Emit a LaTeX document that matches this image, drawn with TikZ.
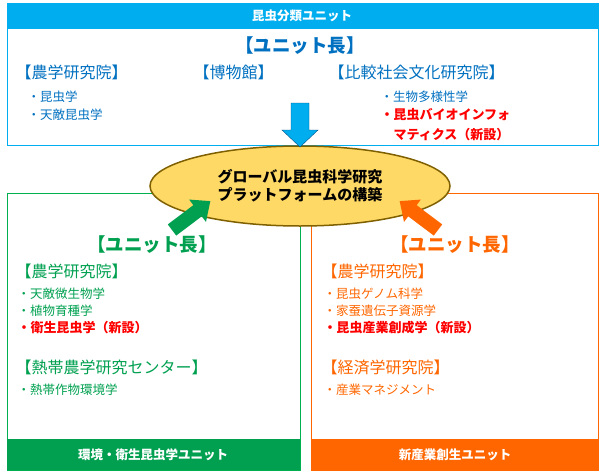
\documentclass[tikz,border=0pt]{standalone}
\usepackage{fontspec}
\setmainfont{Noto Sans CJK JP}
\usetikzlibrary{shapes.geometric,shapes.arrows}
\definecolor{cblue}{HTML}{00AEEF}
\definecolor{tblue}{HTML}{0070C0}
\definecolor{cgreen}{HTML}{00B050}
\definecolor{cgreen2}{HTML}{00A050}
\definecolor{corange}{HTML}{FF6600}
\definecolor{cred}{HTML}{FF0000}
\definecolor{cyel}{HTML}{FFD966}
\definecolor{cbrown}{HTML}{7F6000}
\begin{document}
\begin{tikzpicture}[x=1pt,y=-1pt,
  head/.style={font=\fontsize{18.5}{20}\selectfont\bfseries},
  inst/.style={anchor=west,font=\fontsize{16}{17}\selectfont},
  item/.style={anchor=west,font=\fontsize{12.5}{14}\selectfont},
  new/.style={item,text=cred,font=\fontsize{13}{14}\selectfont\bfseries},
  foot/.style={text=white,font=\fontsize{12.5}{14}\selectfont\bfseries}]
\useasboundingbox (0,0) rectangle (600,474);
% top box
\node[draw=cblue,line width=1pt,minimum width=591,minimum height=142,anchor=north west] (topbox) at (7,3) {};
\fill[cblue] (7,3) rectangle (598,29);
\node[foot] (toptitle) at (302,16) {昆虫分類ユニット};
\node[head,text=tblue] (th) at (300,46) {【ユニット長】};
\node[inst,text=tblue] (t1) at (12,72) {【農学研究院】};
\node[inst,text=tblue] (t2) at (190,72) {【博物館】};
\node[inst,text=tblue] (t3) at (325,72) {【比較社会文化研究院】};
\node[item,text=tblue] (t11) at (24,97) {・昆虫学};
\node[item,text=tblue] (t12) at (24,115) {・天敵昆虫学};
\node[item,text=tblue] (t31) at (377,97) {・生物多様性学};
\node[new] (t32) at (377,115) {・昆虫バイオインフォ};
\node[new] (t33) at (390,135) {マティクス（新設）};
% green box
\node[draw=cgreen,line width=1pt,minimum width=293,minimum height=277,anchor=north west] (gbox) at (7,193) {};
\fill[cgreen2] (7,439) rectangle (300,470);
\node[foot] (gfoot) at (153,455) {環境・衛生昆虫学ユニット};
\node[head,text=cgreen2] (gh) at (152,245) {【ユニット長】};
\node[inst,text=cgreen2] (g1) at (12,271) {【農学研究院】};
\node[item,text=cgreen2] (g11) at (14,294) {・天敵微生物学};
\node[item,text=cgreen2] (g12) at (14,311) {・植物育種学};
\node[new] (g13) at (14,328) {・衛生昆虫学（新設）};
\node[inst,text=cgreen2] (g2) at (12,367) {【熱帯農学研究センター】};
\node[item,text=cgreen2] (g21) at (14,390) {・熱帯作物環境学};
% orange box
\node[draw=corange,line width=1pt,minimum width=287,minimum height=277,anchor=north west] (obox) at (311,193) {};
\fill[corange] (311,439) rectangle (598,470);
\node[foot] (ofoot) at (455,455) {新産業創生ユニット};
\node[head,text=corange] (oh) at (455,245) {【ユニット長】};
\node[inst,text=corange] (o1) at (318,271) {【農学研究院】};
\node[item,text=corange] (o11) at (320,294) {・昆虫ゲノム科学};
\node[item,text=corange] (o12) at (320,311) {・家蚕遺伝子資源学};
\node[new] (o13) at (320,328) {・昆虫産業創成学（新設）};
\node[inst,text=corange] (o2) at (318,367) {【経済学研究院】};
\node[item,text=corange] (o21) at (320,390) {・産業マネジメント};
% ellipse
\node[ellipse,draw=cbrown,fill=cyel,line width=1.5pt,minimum width=300,minimum height=80,
  font=\fontsize{15}{18}\selectfont\bfseries,align=center] (ell) at (300,186) {グローバル昆虫科学研究\\プラットフォームの構築};
% arrows
\fill[cblue,draw=tblue!70!black,line width=0.4pt] (291,103) -- (309,103) -- (309,130) -- (318,130) -- (300,147) -- (282,130) -- (291,130) -- cycle;
\begin{scope}[shift={(172,230)},rotate=37]
\fill[cgreen2] (0,-7) -- (32,-7) -- (32,-14) -- (48,0) -- (32,14) -- (32,7) -- (0,7) -- cycle;
\end{scope}
\begin{scope}[shift={(438,230)},rotate=143]
\fill[corange] (0,-7) -- (32,-7) -- (32,-14) -- (48,0) -- (32,14) -- (32,7) -- (0,7) -- cycle;
\end{scope}
\end{tikzpicture}
\end{document}
